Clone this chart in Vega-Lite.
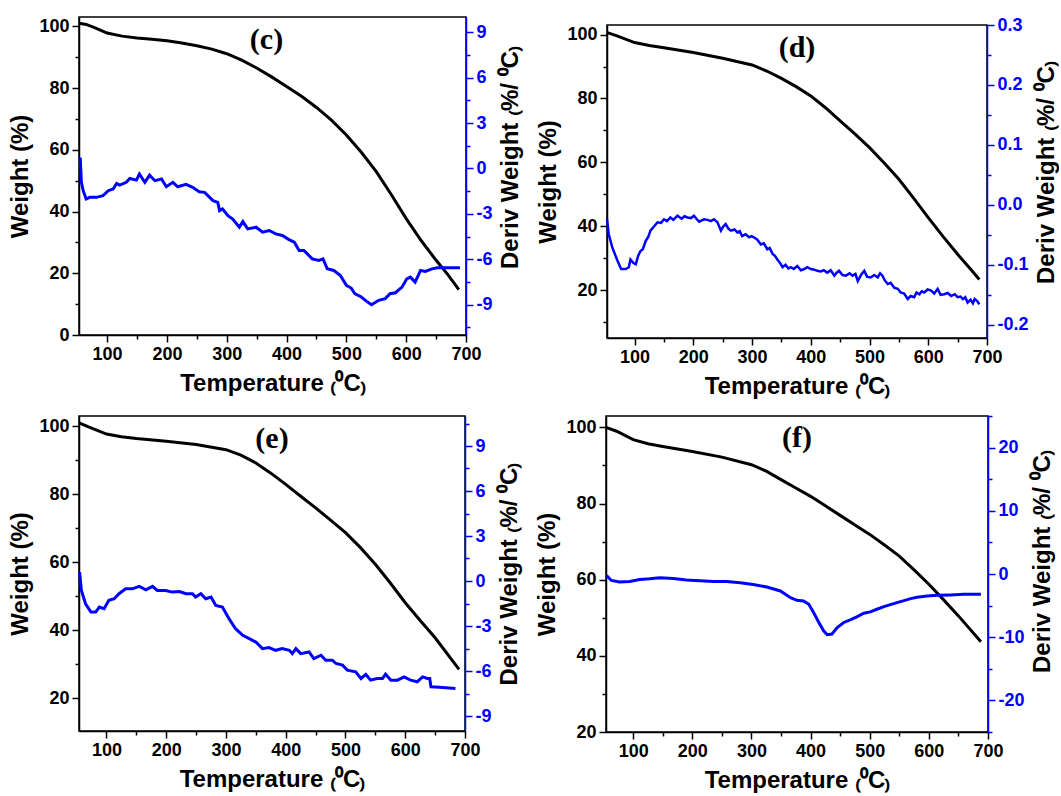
{
  "$schema": "https://vega.github.io/schema/vega-lite/v6.json",
  "background": "white",
  "padding": {"left": 8, "top": 15, "right": 0, "bottom": 0},
  "config": {
    "axis": {"labelFont": "Liberation Sans", "labelFontSize": 18, "labelFontWeight": "bold", "labelColor": "black",
      "titleFont": "Liberation Sans", "titleFontSize": 24, "titleFontWeight": "bold", "titleColor": "black",
      "grid": false, "domainColor": "black", "domainWidth": 1.5, "tickColor": "black", "tickWidth": 1.5, "labelPadding": 3},
    "view": {"stroke": "black", "strokeWidth": 1.5},
    "title": {"font": "Liberation Serif", "fontSize": 30, "fontWeight": "bold", "color": "black", "anchor": "middle", "frame": "group"}
  },
  "datasets": {
    "c_w": [{"t":53,"w":101},{"t":65,"w":100.6},{"t":80,"w":99.5},{"t":100,"w":97.8},{"t":125,"w":96.8},{"t":150,"w":96.2},{"t":175,"w":95.8},{"t":200,"w":95.3},{"t":225,"w":94.6},{"t":250,"w":93.7},{"t":275,"w":92.6},{"t":300,"w":91.1},{"t":325,"w":89},{"t":350,"w":86.5},{"t":375,"w":83.6},{"t":400,"w":80.5},{"t":425,"w":77.3},{"t":450,"w":73.7},{"t":475,"w":69.6},{"t":500,"w":64.8},{"t":525,"w":59.2},{"t":550,"w":52.9},{"t":575,"w":45.5},{"t":600,"w":37.7},{"t":625,"w":30.6},{"t":650,"w":24.2},{"t":670,"w":19.5},{"t":688,"w":14.7}],
    "c_d": [{"t":55,"d":0.72},{"t":57,"d":-0.92},{"t":60,"d":-1.47},{"t":65,"d":-2.02},{"t":71,"d":-1.91},{"t":82,"d":-1.91},{"t":93,"d":-1.8},{"t":102,"d":-1.47},{"t":110,"d":-1.36},{"t":116,"d":-0.99},{"t":121,"d":-1.1},{"t":132,"d":-0.92},{"t":138,"d":-0.66},{"t":149,"d":-0.77},{"t":154,"d":-0.37},{"t":163,"d":-0.92},{"t":171,"d":-0.44},{"t":180,"d":-0.81},{"t":191,"d":-0.7},{"t":199,"d":-1.21},{"t":210,"d":-0.92},{"t":218,"d":-1.21},{"t":232,"d":-1.05},{"t":243,"d":-1.25},{"t":254,"d":-1.54},{"t":263,"d":-1.58},{"t":277,"d":-2.13},{"t":285,"d":-2.24},{"t":288,"d":-2.79},{"t":293,"d":-2.68},{"t":302,"d":-3.12},{"t":310,"d":-3.34},{"t":321,"d":-3.88},{"t":327,"d":-3.51},{"t":335,"d":-3.99},{"t":349,"d":-3.88},{"t":360,"d":-4.21},{"t":371,"d":-4.1},{"t":382,"d":-4.32},{"t":393,"d":-4.43},{"t":404,"d":-4.7},{"t":413,"d":-4.87},{"t":421,"d":-5.42},{"t":429,"d":-5.42},{"t":443,"d":-5.97},{"t":454,"d":-6.08},{"t":461,"d":-5.97},{"t":468,"d":-6.63},{"t":479,"d":-6.74},{"t":490,"d":-7.07},{"t":500,"d":-7.72},{"t":508,"d":-7.9},{"t":514,"d":-8.27},{"t":525,"d":-8.49},{"t":534,"d":-8.78},{"t":542,"d":-9.0},{"t":554,"d":-8.71},{"t":565,"d":-8.6},{"t":573,"d":-8.27},{"t":582,"d":-8.21},{"t":593,"d":-7.84},{"t":601,"d":-7.29},{"t":607,"d":-7.18},{"t":615,"d":-7.51},{"t":624,"d":-6.74},{"t":632,"d":-6.8},{"t":643,"d":-6.63},{"t":652,"d":-6.56},{"t":690,"d":-6.56}],
    "d_w": [{"t":53.4,"w":100.6},{"t":70,"w":99.6},{"t":100,"w":97.5},{"t":125,"w":96.6},{"t":150,"w":95.9},{"t":200,"w":94.4},{"t":250,"w":92.6},{"t":300,"w":90.5},{"t":325,"w":88.6},{"t":350,"w":86.3},{"t":375,"w":83.7},{"t":400,"w":80.8},{"t":425,"w":77.1},{"t":450,"w":73},{"t":475,"w":68.9},{"t":500,"w":64.6},{"t":525,"w":59.8},{"t":550,"w":54.7},{"t":575,"w":48.8},{"t":600,"w":42.7},{"t":625,"w":36.8},{"t":650,"w":31.2},{"t":670,"w":27},{"t":687,"w":23.3}],
    "d_d": [{"t":53,"d":-0.024},{"t":56,"d":-0.049},{"t":62,"d":-0.071},{"t":70,"d":-0.091},{"t":77,"d":-0.107},{"t":85,"d":-0.107},{"t":90,"d":-0.104},{"t":93,"d":-0.091},{"t":98,"d":-0.097},{"t":102,"d":-0.099},{"t":106,"d":-0.085},{"t":110,"d":-0.077},{"t":114,"d":-0.074},{"t":119,"d":-0.06},{"t":123,"d":-0.054},{"t":127,"d":-0.043},{"t":133,"d":-0.036},{"t":139,"d":-0.029},{"t":145,"d":-0.03},{"t":150,"d":-0.024},{"t":155,"d":-0.027},{"t":161,"d":-0.021},{"t":166,"d":-0.025},{"t":173,"d":-0.018},{"t":180,"d":-0.023},{"t":185,"d":-0.019},{"t":190,"d":-0.021},{"t":196,"d":-0.022},{"t":201,"d":-0.018},{"t":206,"d":-0.024},{"t":210,"d":-0.028},{"t":218,"d":-0.024},{"t":224,"d":-0.025},{"t":230,"d":-0.027},{"t":235,"d":-0.024},{"t":241,"d":-0.029},{"t":247,"d":-0.043},{"t":251,"d":-0.036},{"t":255,"d":-0.032},{"t":260,"d":-0.04},{"t":264,"d":-0.043},{"t":270,"d":-0.041},{"t":275,"d":-0.046},{"t":279,"d":-0.044},{"t":283,"d":-0.052},{"t":289,"d":-0.049},{"t":295,"d":-0.054},{"t":299,"d":-0.052},{"t":303,"d":-0.054},{"t":309,"d":-0.058},{"t":315,"d":-0.066},{"t":320,"d":-0.064},{"t":326,"d":-0.074},{"t":330,"d":-0.072},{"t":335,"d":-0.082},{"t":339,"d":-0.085},{"t":343,"d":-0.091},{"t":347,"d":-0.096},{"t":352,"d":-0.104},{"t":357,"d":-0.1},{"t":362,"d":-0.106},{"t":366,"d":-0.104},{"t":371,"d":-0.107},{"t":377,"d":-0.102},{"t":383,"d":-0.109},{"t":389,"d":-0.107},{"t":394,"d":-0.104},{"t":400,"d":-0.107},{"t":406,"d":-0.108},{"t":411,"d":-0.11},{"t":417,"d":-0.111},{"t":422,"d":-0.109},{"t":428,"d":-0.113},{"t":434,"d":-0.109},{"t":440,"d":-0.118},{"t":444,"d":-0.113},{"t":448,"d":-0.11},{"t":454,"d":-0.117},{"t":460,"d":-0.118},{"t":466,"d":-0.114},{"t":471,"d":-0.118},{"t":476,"d":-0.115},{"t":480,"d":-0.127},{"t":486,"d":-0.116},{"t":491,"d":-0.11},{"t":496,"d":-0.12},{"t":502,"d":-0.121},{"t":508,"d":-0.117},{"t":514,"d":-0.121},{"t":518,"d":-0.114},{"t":522,"d":-0.118},{"t":526,"d":-0.126},{"t":531,"d":-0.132},{"t":536,"d":-0.13},{"t":542,"d":-0.138},{"t":548,"d":-0.14},{"t":553,"d":-0.146},{"t":559,"d":-0.148},{"t":565,"d":-0.157},{"t":570,"d":-0.152},{"t":576,"d":-0.154},{"t":580,"d":-0.146},{"t":585,"d":-0.149},{"t":589,"d":-0.144},{"t":593,"d":-0.146},{"t":599,"d":-0.141},{"t":605,"d":-0.143},{"t":610,"d":-0.148},{"t":616,"d":-0.14},{"t":621,"d":-0.15},{"t":627,"d":-0.149},{"t":633,"d":-0.147},{"t":639,"d":-0.152},{"t":645,"d":-0.149},{"t":650,"d":-0.154},{"t":655,"d":-0.153},{"t":659,"d":-0.157},{"t":663,"d":-0.154},{"t":667,"d":-0.163},{"t":672,"d":-0.158},{"t":676,"d":-0.164},{"t":679,"d":-0.157},{"t":683,"d":-0.16},{"t":687,"d":-0.166}],
    "e_w": [{"t":54,"w":101},{"t":71,"w":99.7},{"t":100,"w":97.7},{"t":125,"w":96.9},{"t":150,"w":96.4},{"t":200,"w":95.6},{"t":250,"w":94.6},{"t":300,"w":93.1},{"t":325,"w":91.5},{"t":350,"w":89.2},{"t":375,"w":86.2},{"t":400,"w":82.9},{"t":425,"w":79.4},{"t":450,"w":76},{"t":475,"w":72.4},{"t":500,"w":68.7},{"t":525,"w":64.3},{"t":550,"w":59.4},{"t":575,"w":53.9},{"t":600,"w":48.1},{"t":625,"w":42.9},{"t":650,"w":37.8},{"t":690,"w":28.5}],
    "e_d": [{"t":55,"d":0.59},{"t":58,"d":-0.63},{"t":65,"d":-1.52},{"t":74,"d":-2.07},{"t":82,"d":-2.07},{"t":88,"d":-1.74},{"t":96,"d":-1.85},{"t":104,"d":-1.29},{"t":113,"d":-1.18},{"t":121,"d":-0.85},{"t":132,"d":-0.52},{"t":143,"d":-0.52},{"t":155,"d":-0.36},{"t":166,"d":-0.59},{"t":177,"d":-0.36},{"t":185,"d":-0.63},{"t":199,"d":-0.63},{"t":210,"d":-0.74},{"t":222,"d":-0.7},{"t":233,"d":-0.85},{"t":244,"d":-0.85},{"t":249,"d":-1.07},{"t":258,"d":-0.85},{"t":266,"d":-1.18},{"t":275,"d":-1.07},{"t":283,"d":-1.63},{"t":294,"d":-1.74},{"t":305,"d":-2.51},{"t":316,"d":-3.18},{"t":328,"d":-3.62},{"t":339,"d":-3.84},{"t":350,"d":-4.07},{"t":361,"d":-4.51},{"t":372,"d":-4.44},{"t":383,"d":-4.62},{"t":394,"d":-4.51},{"t":406,"d":-4.62},{"t":411,"d":-4.84},{"t":417,"d":-4.51},{"t":425,"d":-4.84},{"t":439,"d":-4.73},{"t":447,"d":-5.17},{"t":459,"d":-4.95},{"t":467,"d":-5.28},{"t":478,"d":-5.28},{"t":484,"d":-5.5},{"t":495,"d":-5.61},{"t":503,"d":-5.94},{"t":517,"d":-6.05},{"t":526,"d":-6.5},{"t":534,"d":-6.23},{"t":542,"d":-6.61},{"t":553,"d":-6.5},{"t":562,"d":-6.5},{"t":567,"d":-6.21},{"t":576,"d":-6.61},{"t":587,"d":-6.61},{"t":598,"d":-6.39},{"t":609,"d":-6.61},{"t":620,"d":-6.72},{"t":629,"d":-6.39},{"t":637,"d":-6.5},{"t":641,"d":-6.5},{"t":643,"d":-7.05},{"t":657,"d":-7.09},{"t":684,"d":-7.16}],
    "f_w": [{"t":54,"w":100},{"t":72,"w":99},{"t":100,"w":96.8},{"t":125,"w":95.7},{"t":150,"w":95},{"t":200,"w":93.7},{"t":250,"w":92.2},{"t":300,"w":90.2},{"t":325,"w":88.5},{"t":350,"w":86.3},{"t":375,"w":84.1},{"t":400,"w":81.9},{"t":425,"w":79.4},{"t":450,"w":76.9},{"t":475,"w":74.4},{"t":500,"w":71.9},{"t":525,"w":69.1},{"t":550,"w":66.2},{"t":575,"w":62.6},{"t":600,"w":58.8},{"t":625,"w":54.7},{"t":650,"w":50.5},{"t":688,"w":43.7}],
    "f_d": [{"t":55,"d":-0.23},{"t":63,"d":-1.02},{"t":77,"d":-1.28},{"t":94,"d":-1.17},{"t":111,"d":-0.86},{"t":128,"d":-0.75},{"t":145,"d":-0.6},{"t":168,"d":-0.7},{"t":190,"d":-0.96},{"t":213,"d":-1.07},{"t":236,"d":-1.17},{"t":258,"d":-1.17},{"t":281,"d":-1.38},{"t":303,"d":-1.65},{"t":326,"d":-2.07},{"t":349,"d":-2.69},{"t":366,"d":-3.74},{"t":377,"d":-4.16},{"t":388,"d":-4.27},{"t":397,"d":-4.8},{"t":405,"d":-6.1},{"t":414,"d":-7.67},{"t":422,"d":-8.98},{"t":428,"d":-9.61},{"t":436,"d":-9.51},{"t":445,"d":-8.46},{"t":456,"d":-7.67},{"t":467,"d":-7.25},{"t":479,"d":-6.73},{"t":490,"d":-6.21},{"t":501,"d":-6.0},{"t":512,"d":-5.58},{"t":524,"d":-5.16},{"t":535,"d":-4.84},{"t":546,"d":-4.53},{"t":558,"d":-4.21},{"t":569,"d":-3.9},{"t":580,"d":-3.69},{"t":597,"d":-3.48},{"t":614,"d":-3.38},{"t":637,"d":-3.32},{"t":659,"d":-3.22},{"t":688,"d":-3.22}]
  },
  "vconcat": [
    {"hconcat": [
      {"width": 387, "height": 318,
       "title": {"text": "(c)", "offset": -38, "dx": -6},
       "encoding": {"x": {"field": "t", "type": "quantitative", "scale": {"domain": [53, 700], "nice": false, "zero": false},
         "axis": {"title": "Temperature ₍⁰C₎", "values": [100,150,200,250,300,350,400,450,500,550,600,650,700], "labelExpr": "datum.value % 100 === 0 ? datum.label : ''", "tickSize": {"condition": {"test": "datum.value % 100 === 0", "value": 7}, "value": 4}, "titlePadding": 8, "labelFlush": false}}},
       "layer": [
         {"data": {"name": "c_w"}, "mark": {"type": "line", "color": "black", "strokeWidth": 3},
          "encoding": {"y": {"field": "w", "type": "quantitative", "scale": {"domain": [0, 103], "nice": false, "zero": false},
            "axis": {"title": "Weight (%)", "values": [0,10,20,30,40,50,60,70,80,90,100], "labelExpr": "datum.value % 20 === 0 ? datum.label : ''", "tickSize": {"condition": {"test": "datum.value % 20 === 0", "value": 7}, "value": 4}, "titlePadding": 6}}}},
         {"data": {"name": "c_d"}, "mark": {"type": "line", "color": "#0000ff", "strokeWidth": 3},
          "encoding": {"y": {"field": "d", "type": "quantitative", "scale": {"domain": [-11, 10], "nice": false, "zero": false},
            "axis": {"orient": "right", "title": "Deriv Weight ₍%/ ⁰C₎", "titleAngle": -90, "titleBaseline": "top", "titleY": 140, "values": [-10.5,-9,-7.5,-6,-4.5,-3,-1.5,0,1.5,3,4.5,6,7.5,9], "labelExpr": "datum.value % 3 === 0 ? replace(datum.label, '−', '-') : ''", "tickSize": {"condition": {"test": "datum.value % 3 === 0", "value": 7}, "value": 4}, "domainColor": "#0000ff", "tickColor": "#0000ff", "labelColor": "#0000ff", "titlePadding": 6}}}}
       ],
       "resolve": {"scale": {"y": "independent"}}},
      {"vconcat": [
        {"width": 380, "height": 1, "data": {"values": []}, "mark": "point", "encoding": {}, "view": {"stroke": null}},
        {"width": 380, "height": 313,
         "title": {"text": "(d)", "offset": -47},
         "encoding": {"x": {"field": "t", "type": "quantitative", "scale": {"domain": [53, 700], "nice": false, "zero": false},
           "axis": {"title": "Temperature ₍⁰C₎", "values": [100,150,200,250,300,350,400,450,500,550,600,650,700], "labelExpr": "datum.value % 100 === 0 ? datum.label : ''", "tickSize": {"condition": {"test": "datum.value % 100 === 0", "value": 7}, "value": 4}, "titlePadding": 8, "labelFlush": false}}},
         "layer": [
           {"data": {"name": "d_w"}, "mark": {"type": "line", "color": "black", "strokeWidth": 3},
            "encoding": {"y": {"field": "w", "type": "quantitative", "scale": {"domain": [5, 103], "nice": false, "zero": false},
              "axis": {"title": "Weight (%)", "values": [10,20,30,40,50,60,70,80,90,100], "labelExpr": "datum.value % 20 === 0 ? datum.label : ''", "tickSize": {"condition": {"test": "datum.value % 20 === 0", "value": 7}, "value": 4}, "titlePadding": 6}}}},
           {"data": {"name": "d_d"}, "mark": {"type": "line", "color": "#0000ff", "strokeWidth": 2.5},
            "encoding": {"y": {"field": "d", "type": "quantitative", "scale": {"domain": [-0.222, 0.3], "nice": false, "zero": false},
              "axis": {"orient": "right", "title": "Deriv Weight ₍%/ ⁰C₎", "titleAngle": -90, "titleBaseline": "top", "titleY": 147, "format": ".1f", "values": [-0.2,-0.15,-0.1,-0.05,0,0.05,0.1,0.15,0.2,0.25,0.3], "labelExpr": "abs(round(datum.value*10) - datum.value*10) < 0.001 ? replace(datum.label, '−', '-') : ''", "tickSize": {"condition": {"test": "abs(round(datum.value*10) - datum.value*10) < 0.001", "value": 7}, "value": 4}, "domainColor": "#0000ff", "tickColor": "#0000ff", "labelColor": "#0000ff", "titlePadding": 6}}}}
         ],
         "resolve": {"scale": {"y": "independent"}}}
      ], "spacing": -3}
    ], "spacing": 13},
    {"hconcat": [
      {"width": 386, "height": 315,
       "title": {"text": "(e)", "offset": -38},
       "encoding": {"x": {"field": "t", "type": "quantitative", "scale": {"domain": [54, 700], "nice": false, "zero": false},
         "axis": {"title": "Temperature ₍⁰C₎", "values": [100,150,200,250,300,350,400,450,500,550,600,650,700], "labelExpr": "datum.value % 100 === 0 ? datum.label : ''", "tickSize": {"condition": {"test": "datum.value % 100 === 0", "value": 7}, "value": 4}, "titlePadding": 8, "labelFlush": false}}},
       "layer": [
         {"data": {"name": "e_w"}, "mark": {"type": "line", "color": "black", "strokeWidth": 3},
          "encoding": {"y": {"field": "w", "type": "quantitative", "scale": {"domain": [10.4, 103], "nice": false, "zero": false},
            "axis": {"title": "Weight (%)", "values": [20,30,40,50,60,70,80,90,100], "labelExpr": "datum.value % 20 === 0 ? datum.label : ''", "tickSize": {"condition": {"test": "datum.value % 20 === 0", "value": 7}, "value": 4}, "titlePadding": 6}}}},
         {"data": {"name": "e_d"}, "mark": {"type": "line", "color": "#0000ff", "strokeWidth": 3},
          "encoding": {"y": {"field": "d", "type": "quantitative", "scale": {"domain": [-10, 11], "nice": false, "zero": false},
            "axis": {"orient": "right", "title": "Deriv Weight ₍%/ ⁰C₎", "titleAngle": -90, "titleBaseline": "top", "values": [-9,-7.5,-6,-4.5,-3,-1.5,0,1.5,3,4.5,6,7.5,9,10.5], "labelExpr": "datum.value % 3 === 0 ? replace(datum.label, '−', '-') : ''", "tickSize": {"condition": {"test": "datum.value % 3 === 0", "value": 7}, "value": 4}, "domainColor": "#0000ff", "tickColor": "#0000ff", "labelColor": "#0000ff", "titlePadding": 6}}}}
       ],
       "resolve": {"scale": {"y": "independent"}}},
      {"width": 382, "height": 316,
       "title": {"text": "(f)", "offset": -38},
       "encoding": {"x": {"field": "t", "type": "quantitative", "scale": {"domain": [54, 700], "nice": false, "zero": false},
         "axis": {"title": "Temperature ₍⁰C₎", "values": [100,150,200,250,300,350,400,450,500,550,600,650,700], "labelExpr": "datum.value % 100 === 0 ? datum.label : ''", "tickSize": {"condition": {"test": "datum.value % 100 === 0", "value": 7}, "value": 4}, "titlePadding": 8, "labelFlush": false}}},
       "layer": [
         {"data": {"name": "f_w"}, "mark": {"type": "line", "color": "black", "strokeWidth": 3},
          "encoding": {"y": {"field": "w", "type": "quantitative", "scale": {"domain": [20, 103], "nice": false, "zero": false},
            "axis": {"title": "Weight (%)", "values": [20,30,40,50,60,70,80,90,100], "labelExpr": "datum.value % 20 === 0 ? datum.label : ''", "tickSize": {"condition": {"test": "datum.value % 20 === 0", "value": 7}, "value": 4}, "titlePadding": 6}}}},
         {"data": {"name": "f_d"}, "mark": {"type": "line", "color": "#0000ff", "strokeWidth": 3},
          "encoding": {"y": {"field": "d", "type": "quantitative", "scale": {"domain": [-25, 25], "nice": false, "zero": false},
            "axis": {"orient": "right", "title": "Deriv Weight ₍%/ ⁰C₎", "titleAngle": -90, "titleBaseline": "top", "titleY": 145, "values": [-25,-20,-15,-10,-5,0,5,10,15,20,25], "labelExpr": "datum.value % 10 === 0 ? replace(datum.label, '−', '-') : ''", "tickSize": {"condition": {"test": "datum.value % 10 === 0", "value": 7}, "value": 4}, "domainColor": "#0000ff", "tickColor": "#0000ff", "labelColor": "#0000ff", "titlePadding": 6}}}}
       ],
       "resolve": {"scale": {"y": "independent"}}}
    ], "spacing": 13}
  ],
  "spacing": 15
}
